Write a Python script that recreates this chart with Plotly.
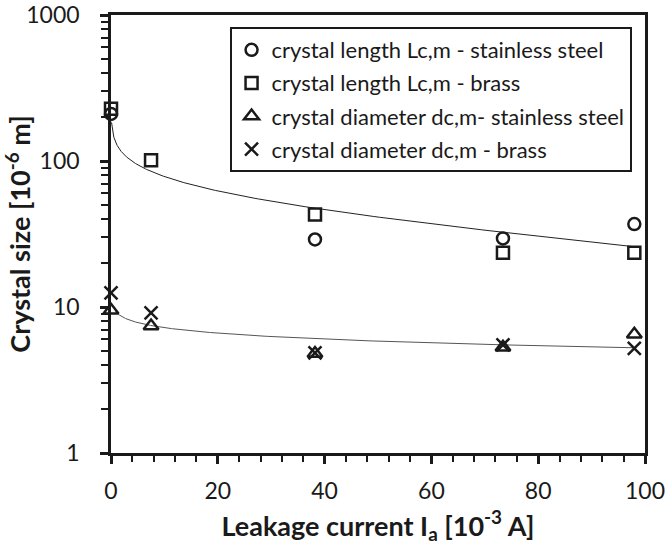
import numpy as np
import plotly.graph_objects as go

# Leakage current [10^-3 A] and measured crystal sizes [10^-6 m]
x_len_ss = [0, 38.2, 73.4, 98]
len_ss = [210, 29, 29.5, 37]

x_len_brass = [0, 7.5, 38.2, 73.4, 98]
len_brass = [228, 101, 43, 23.5, 23.5]

x_dia_ss = [0, 7.5, 38.2, 73.4, 98]
dia_ss = [9.5, 7.4, 4.8, 5.3, 6.5]

x_dia_brass = [0, 7.5, 38.2, 73.4, 98]
dia_brass = [12.5, 9.1, 4.85, 5.5, 5.2]

# Logarithmic trend lines y = a + b*ln(x)
len_trend_a, len_trend_b = 131.1, -22.95
dia_trend_a, dia_trend_b = 9.2, -0.86

x_tick_vals = [0, 20, 40, 60, 80, 100]
y_tick_vals = [1, 10, 100, 1000]

FONT = "Lato"
INK = "#1a1a1a"

fig = go.Figure()

xl = np.geomspace(0.1, 98, 300)
fig.add_trace(go.Scatter(x=xl, y=len_trend_a + len_trend_b * np.log(xl), mode="lines",
                         line=dict(color="#222222", width=1), showlegend=False, hoverinfo="skip"))
xd = np.geomspace(0.8, 98, 300)
fig.add_trace(go.Scatter(x=xd, y=dia_trend_a + dia_trend_b * np.log(xd), mode="lines",
                         line=dict(color="#555555", width=1), showlegend=False, hoverinfo="skip"))

mk_line = dict(color=INK, width=2.5)
series = [
    (x_len_ss, len_ss, "circle-open", 12, "crystal length Lc,m - stainless steel"),
    (x_len_brass, len_brass, "square-open", 12, "crystal length Lc,m - brass"),
    (x_dia_ss, dia_ss, "triangle-up-open", 13, "crystal diameter dc,m- stainless steel"),
    (x_dia_brass, dia_brass, "x-thin-open", 13, "crystal diameter dc,m - brass"),
]
for i, (xs, ys, sym, size, name) in enumerate(series):
    fig.add_trace(go.Scatter(x=xs, y=ys, mode="markers", name=name, legendgroup=f"g{i}",
                             cliponaxis=False,
                             marker=dict(symbol=sym, size=size, color=INK, line=mk_line)))

fig.update_layout(
    width=670, height=551,
    margin=dict(l=111, r=25, t=15, b=98, autoexpand=False),
    paper_bgcolor="white", plot_bgcolor="white",
    font=dict(family=FONT, color=INK),
    showlegend=True,
    legend=dict(x=0.222, y=0.9726, xanchor="left", yanchor="top",
                bgcolor="white", bordercolor=INK, borderwidth=2,
                font=dict(family=FONT, size=22, color=INK),
                tracegroupgap=1.5, itemwidth=30),
    xaxis=dict(range=[0, 100], tickvals=x_tick_vals, showgrid=False, zeroline=False,
               showline=True, linecolor=INK, linewidth=2.5, mirror=True,
               ticks="outside", ticklen=8, tickwidth=2.5, tickcolor=INK,
               minor=dict(dtick=4, ticks="outside", ticklen=6, tickwidth=2, tickcolor=INK),
               tickfont=dict(family=FONT, size=23, color=INK),
               ticklabelstandoff=8,
               title=dict(text="<b>Leakage current I<sub>a</sub> [10<sup>-3</sup> A]</b>",
                          font=dict(family=FONT, size=27, color=INK), standoff=14)),
    yaxis=dict(type="log", range=[0, 3], tickvals=y_tick_vals, ticktext=[str(v) for v in y_tick_vals],
               showgrid=False, zeroline=False,
               showline=True, linecolor=INK, linewidth=2.5, mirror=True,
               ticks="outside", ticklen=8, tickwidth=2.5, tickcolor=INK,
               minor=dict(tickvals=[m * d for d in (1, 10, 100) for m in range(2, 10)],
                          ticks="outside", ticklen=7, tickwidth=2, tickcolor=INK),
               tickfont=dict(family=FONT, size=23, color=INK),
               ticklabelstandoff=16,
               title=dict(text="<b>Crystal size [10<sup>-6</sup> m]</b>",
                          font=dict(family=FONT, size=27, color=INK), standoff=10)),
)

fig.write_html("out.html")
